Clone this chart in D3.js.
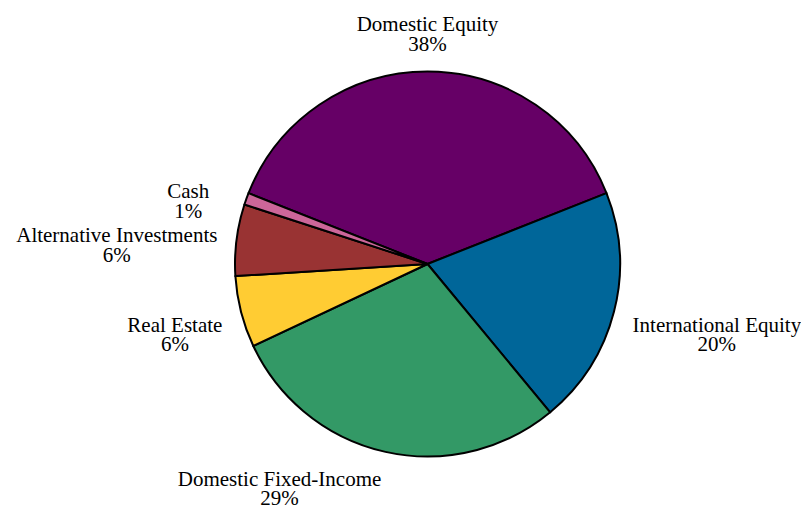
<!DOCTYPE html>
<html>
<head>
<meta charset="utf-8">
<script src="https://cdn.jsdelivr.net/npm/d3@7"></script>
<style>
  html, body { margin: 0; padding: 0; background: #fff; }
  svg { display: block; }
  text { font-family: "Liberation Serif", "Times New Roman", Times, serif; font-size: 21px; fill: #000; }
</style>
</head>
<body>
<svg id="chart" width="801" height="518"></svg>
<script>
// Asset allocation shares, in percent
const categories = ["Domestic Equity", "International Equity", "Domestic Fixed-Income",
                    "Real Estate", "Alternative Investments", "Cash"];
const shares = [38, 20, 29, 6, 6, 1];
const sliceColors = ["#660066", "#006699", "#339966", "#FFCC33", "#993333", "#CC6699"];

const width = 801, height = 518;
const cx = 427.5, cy = 264, radius = 192.5;
const labelRadius = radius * 1.1;
const lineStep = 19.5;

// small hand adjustment for the crowded label at the thin slice
const labelNudge = { "Cash": [-19, 10] };

const rows = categories.map((c, i) => ({ name: c, value: shares[i], color: sliceColors[i] }));
const total = d3.sum(shares);

// first slice is centred on twelve o'clock, slices run clockwise
const start = -Math.PI * shares[0] / total;
const pie = d3.pie().sort(null).value(d => d.value)
  .startAngle(start).endAngle(start + 2 * Math.PI);
const arcs = pie(rows);

const arc = d3.arc().innerRadius(0).outerRadius(radius);

const svg = d3.select("#chart");
const g = svg.append("g").attr("transform", `translate(${cx},${cy})`);

g.selectAll("path.slice")
  .data(arcs)
  .join("path")
  .attr("class", "slice")
  .attr("d", arc)
  .attr("fill", d => d.data.color)
  .attr("stroke", "#000")
  .attr("stroke-width", 2)
  .attr("stroke-linejoin", "round");

// labels: name over percentage, lines centred on each other
const labels = g.selectAll("text.label")
  .data(arcs)
  .join("text")
  .attr("class", "label")
  .attr("text-anchor", "middle");

labels.each(function (d) {
  const t = d3.select(this);
  const lines = [d.data.name, d3.format(".0f")(d.data.value) + "%"];
  lines.forEach((s, i) => t.append("tspan").text(s));
  const maxW = d3.max(t.selectAll("tspan").nodes(), n => n.getComputedTextLength());

  const mid = (d.startAngle + d.endAngle) / 2;
  const sx = Math.sin(mid), cz = Math.cos(mid);
  let ax = labelRadius * sx, ay = -labelRadius * cz;

  // horizontal: text block hangs away from the pie
  let x;
  if (sx > 0.1) x = ax + maxW / 2;
  else if (sx < -0.1) x = ax - maxW / 2;
  else x = ax;

  // vertical: below the centre the block hangs down, above it sits on the anchor
  const up = Math.max(0, cz);
  let firstBase = ay + 15 - 36 * Math.pow(up, 0.6);

  const nudge = labelNudge[d.data.name] || [0, 0];
  x += nudge[0];
  firstBase += nudge[1];

  t.selectAll("tspan")
    .attr("x", x)
    .attr("y", (s, i) => firstBase + i * lineStep);
});
</script>
</body>
</html>
